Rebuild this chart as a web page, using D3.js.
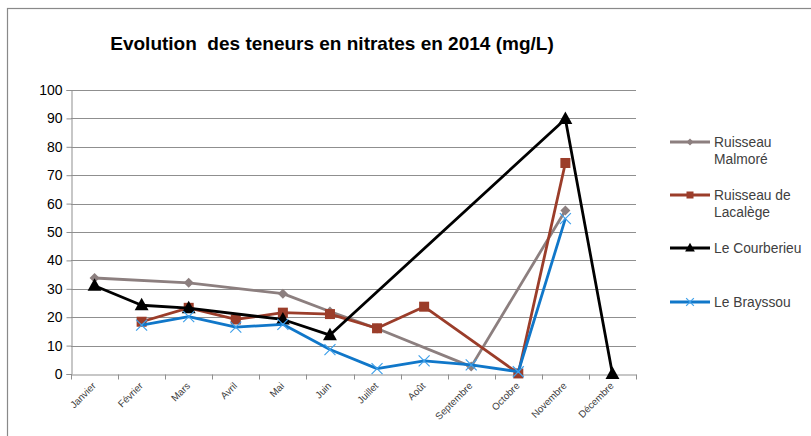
<!DOCTYPE html>
<html>
<head>
<meta charset="utf-8">
<script src="https://cdn.jsdelivr.net/npm/d3@7"></script>
<style>
  html, body { margin: 0; padding: 0; background: #fff; }
  svg { display: block; font-family: "Liberation Sans", Arial, sans-serif; }
</style>
</head>
<body>
<div id="chart"></div>
<script>
const months = ["Janvier", "Février", "Mars", "Avril", "Mai", "Juin", "Juillet",
  "Août", "Septembre", "Octobre", "Novembre", "Décembre"];
const malmore   = [33.8, null, 32.1, null, 28.3, 22, 16, null, 2.6, null, 57.6, null];
const lacalege  = [null, 18.4, 23.3, 19.2, 21.6, 21.1, 16.1, 23.7, null, 0.2, 74.3, null];
const courbieu  = [31.1, 24.2, 23.2, null, 19.2, 13.7, null, null, null, null, 89.8, 0];
const brayssou  = [null, 17.2, 20.2, 16.5, 17.5, 8.6, 1.9, 4.6, 3.2, 0.8, 54.7, null];
const yTicks = d3.range(0, 101, 10);

const series = [
  { name: ["Ruisseau", "Malmoré"], values: malmore, color: "#8c7f7f", marker: "diamond" },
  { name: ["Ruisseau de", "Lacalège"], values: lacalege, color: "#9b3d2a", marker: "square" },
  { name: ["Le Courberieu"], values: courbieu, color: "#000000", marker: "triangle" },
  { name: ["Le Brayssou"], values: brayssou, color: "#1077c9", marker: "cross" }
];

const width = 811, height = 436;
const margin = { left: 71, right: 175, top: 90, bottom: 62 };

const svg = d3.select("#chart").append("svg")
  .attr("width", width)
  .attr("height", height);

// chart outline (runs off the right and bottom edge)
svg.append("rect")
  .attr("x", 7.5).attr("y", 8.5)
  .attr("width", width + 10).attr("height", height + 10)
  .attr("fill", "none").attr("stroke", "#898989").attr("stroke-width", 1.2);

svg.append("text")
  .attr("x", 332).attr("y", 50)
  .attr("text-anchor", "middle")
  .style("font-size", "19px").style("font-weight", "bold")
  .attr("fill", "#000")
  .attr("xml:space", "preserve")
  .text("Evolution  des teneurs en nitrates en 2014 (mg/L)");

const x = d3.scaleBand().domain(months).range([margin.left, width - margin.right]);
const y = d3.scaleLinear().domain([0, 100]).range([height - margin.bottom, margin.top]);

// gridlines
svg.append("g")
  .selectAll("line")
  .data(yTicks.filter(d => d > 0))
  .join("line")
  .attr("x1", margin.left).attr("x2", width - margin.right)
  .attr("y1", d => Math.round(y(d)) + 0.5).attr("y2", d => Math.round(y(d)) + 0.5)
  .attr("stroke", "#8f8f8f").attr("stroke-width", 1);

// y axis
const yAxis = svg.append("g")
  .attr("transform", `translate(${margin.left + 0.5},0)`)
  .call(d3.axisLeft(y).tickValues(yTicks).tickSize(5).tickPadding(4));
yAxis.select(".domain").attr("stroke", "#8f8f8f");
yAxis.selectAll(".tick line").attr("stroke", "#8f8f8f");
yAxis.selectAll(".tick text").attr("fill", "#000").style("font-size", "14px")
  .style("font-family", "'Liberation Sans', Arial, sans-serif");

// x axis
const xAxis = svg.append("g")
  .attr("transform", `translate(0,${Math.round(y(0)) + 0.5})`)
  .call(d3.axisBottom(x).tickSize(0).tickFormat(""));
xAxis.select(".domain").attr("stroke", "#8f8f8f");
const edges = months.map(m => x(m)).concat([x(months[months.length - 1]) + x.bandwidth()]);
xAxis.selectAll("line.edge")
  .data(edges)
  .join("line")
  .attr("class", "edge")
  .attr("x1", d => Math.round(d) + 0.5).attr("x2", d => Math.round(d) + 0.5)
  .attr("y1", 0).attr("y2", 5)
  .attr("stroke", "#8f8f8f");
xAxis.selectAll("text.lab")
  .data(months)
  .join("text")
  .attr("class", "lab")
  .attr("transform", d => `translate(${x(d) + x.bandwidth() / 2 + 2},12) rotate(-45)`)
  .attr("text-anchor", "end")
  .attr("fill", "#404040")
  .style("font-size", "9.8px")
  .text(d => d);

// lines and markers
const line = d3.line()
  .defined(d => d.v !== null)
  .x(d => x(d.m) + x.bandwidth() / 2)
  .y(d => y(d.v));

function drawMarker(g, type, color, size) {
  if (type === "diamond") {
    const s = size / 2;
    g.append("path").attr("d", `M0,${-s}L${s},0L0,${s}L${-s},0Z`)
      .attr("fill", color);
  } else if (type === "square") {
    g.append("rect").attr("x", -size / 2).attr("y", -size / 2)
      .attr("width", size).attr("height", size).attr("fill", color);
  } else if (type === "triangle") {
    g.append("path").attr("d", `M0,${-size * 0.62}L${size * 0.58},${size * 0.42}L${-size * 0.58},${size * 0.42}Z`)
      .attr("fill", color);
  } else {
    const s = size / 2;
    g.append("path").attr("d", `M${-s},${-s}L${s},${s}M${-s},${s}L${s},${-s}`)
      .attr("stroke", "#3fa0ea").attr("stroke-width", 1.2).attr("fill", "none");
  }
}

const sizes = { diamond: 10, square: 10, triangle: 12, cross: 11 };

series.forEach(s => {
  const pts = s.values.map((v, i) => ({ m: months[i], v }));
  const defined = pts.filter(d => d.v !== null);
  svg.append("path")
    .datum(defined)
    .attr("d", line)
    .attr("fill", "none")
    .attr("stroke", s.color)
    .attr("stroke-width", 2.8)
    .attr("stroke-linejoin", "round");
  defined.forEach(d => {
    const g = svg.append("g")
      .attr("transform", `translate(${x(d.m) + x.bandwidth() / 2},${y(d.v)})`);
    drawMarker(g, s.marker, s.color, sizes[s.marker]);
  });
});

// legend
const legendY = [142, 195, 248, 302];
series.forEach((s, i) => {
  const g = svg.append("g").attr("transform", `translate(670,${legendY[i]})`);
  g.append("line").attr("x1", 0).attr("x2", 40).attr("y1", 0).attr("y2", 0)
    .attr("stroke", s.color).attr("stroke-width", 2.8);
  const lg = g.append("g").attr("transform", "translate(20,0)");
  drawMarker(lg, s.marker, s.color, sizes[s.marker] * 0.7);
  s.name.forEach((t, j) => {
    g.append("text")
      .attr("x", 44).attr("y", 5 + j * 17)
      .attr("fill", "#404040")
      .style("font-size", "13.8px")
      .text(t);
  });
});
</script>
</body>
</html>
